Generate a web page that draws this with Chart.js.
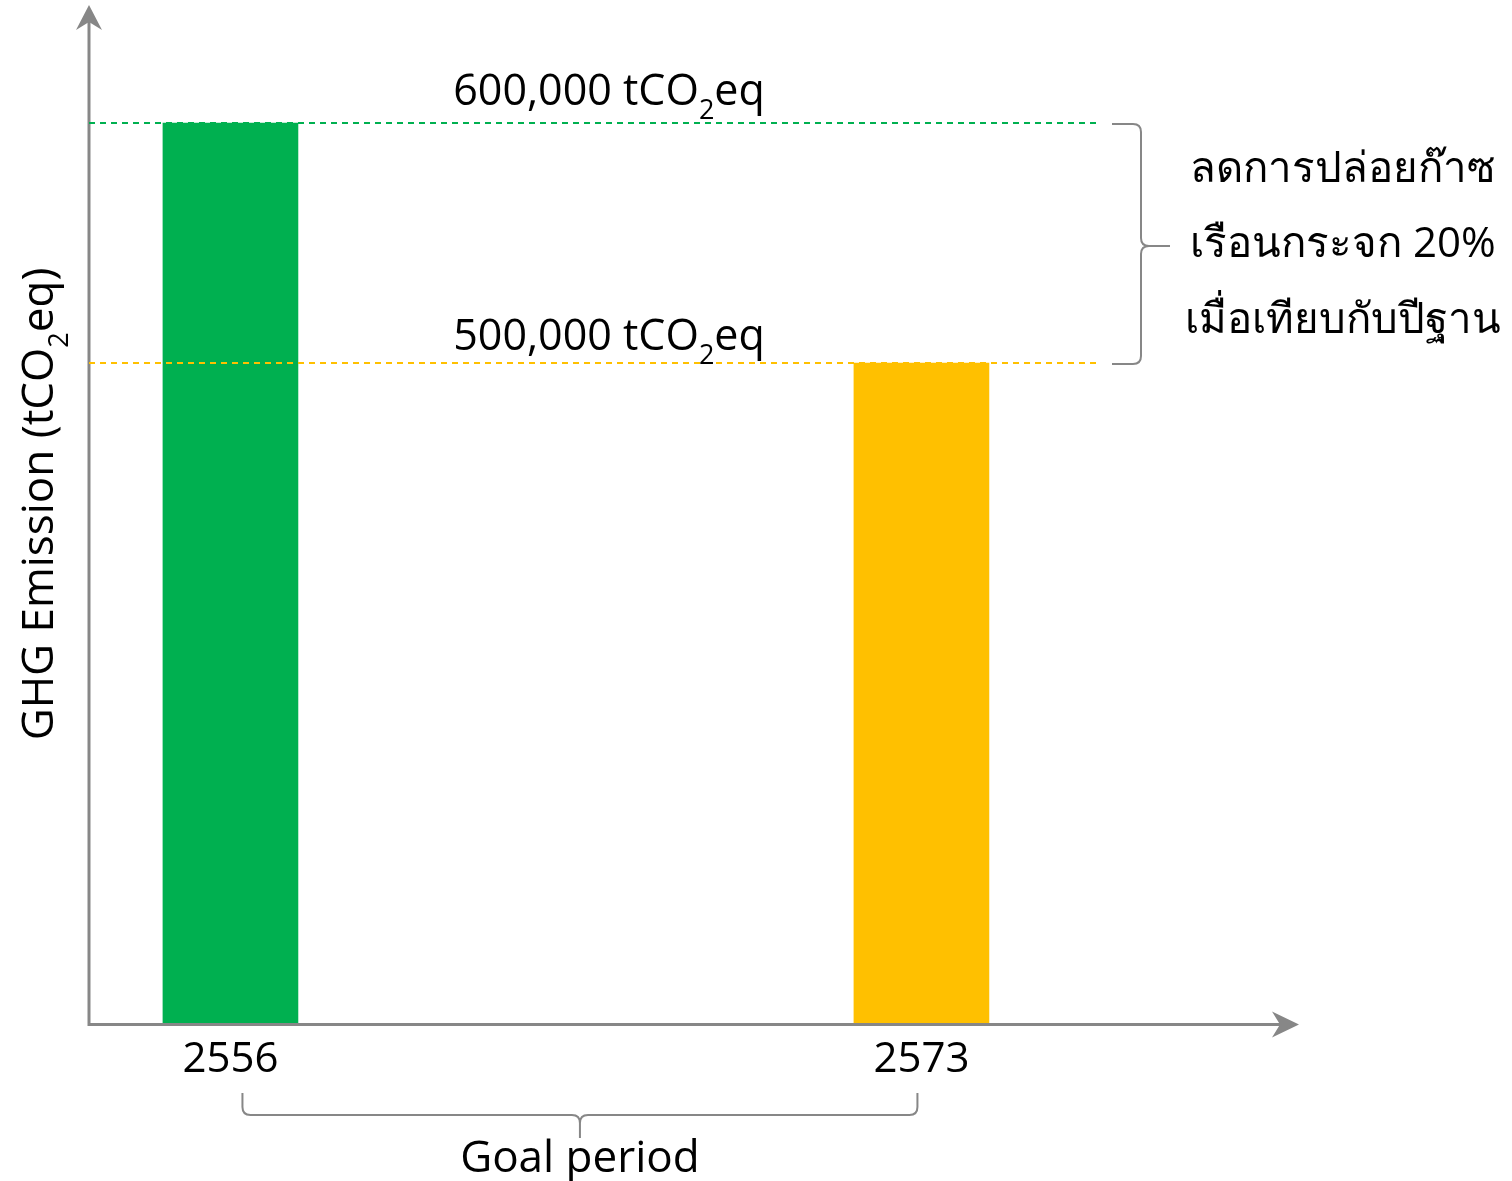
<!DOCTYPE html>
<html lang="th">
<head>
    <meta charset="UTF-8">
    <title>GHG Emission Goal</title>
    <script src="https://cdn.jsdelivr.net/npm/chart.js"></script>
    <style>
        html, body { margin: 0; padding: 0; background: #fff; }
        .chart-box { width: 1512px; height: 1181px; position: relative; }
    </style>
</head>
<body>
    <div class="chart-box">
        <canvas id="ghgChart"></canvas>
    </div>

    <script>
        // data
        const years = [2556, 2573];
        const emissions = [600000, 500000];
        const barColors = ['#00B050', '#FFC000'];
        const levelLabels = ['600,000', '500,000'];
        const noteLines = ['ลดการปล่อยก๊าซ', 'เรือนกระจก 20%', 'เมื่อเทียบกับปีฐาน'];
        const periodLabel = 'Goal period';

        const FONT = '"Open Sans", "Noto Sans", Tahoma, sans-serif';
        const AXIS_GREY = '#878787';

        // text with a subscript "2" in the middle: before + "2" + after
        function drawSub(ctx, before, after, x, y, size, align) {
            const subSize = Math.round(size * 0.62);
            ctx.font = size + 'px ' + FONT;
            const w1 = ctx.measureText(before).width;
            const w3 = ctx.measureText(after).width;
            ctx.font = subSize + 'px ' + FONT;
            const w2 = ctx.measureText('2').width;
            const total = w1 + w2 + w3;
            let sx = align === 'center' ? x - total / 2 : x;
            ctx.textAlign = 'left';
            ctx.textBaseline = 'alphabetic';
            ctx.font = size + 'px ' + FONT;
            ctx.fillText(before, sx, y);
            ctx.font = subSize + 'px ' + FONT;
            ctx.fillText('2', sx + w1, y + size * 0.33);
            ctx.font = size + 'px ' + FONT;
            ctx.fillText(after, sx + w1 + w2, y);
        }

        function arrowHead(ctx, tipX, tipY, dir) {
            // dir: 'up' or 'right'
            ctx.beginPath();
            if (dir === 'up') {
                ctx.moveTo(tipX, tipY);
                ctx.lineTo(tipX + 13, tipY + 25);
                ctx.lineTo(tipX, tipY + 17);
                ctx.lineTo(tipX - 13, tipY + 25);
            } else {
                ctx.moveTo(tipX, tipY);
                ctx.lineTo(tipX - 27, tipY + 13);
                ctx.lineTo(tipX - 19, tipY);
                ctx.lineTo(tipX - 27, tipY - 13);
            }
            ctx.closePath();
            ctx.fill();
        }

        const annotations = {
            id: 'annotations',
            afterDatasetsDraw(chart) {
                const ctx = chart.ctx;
                const area = chart.chartArea;
                const xs = chart.scales.x;
                const ys = chart.scales.y;
                ctx.save();

                // axes with arrows
                ctx.strokeStyle = AXIS_GREY;
                ctx.fillStyle = AXIS_GREY;
                ctx.lineWidth = 3;
                ctx.beginPath();
                ctx.moveTo(area.left, area.top + 14);
                ctx.lineTo(area.left, area.bottom + 1.5);
                ctx.lineTo(area.right - 14, area.bottom + 1.5);
                ctx.stroke();
                arrowHead(ctx, area.left, area.top - 3, 'up');
                arrowHead(ctx, area.right + 2, area.bottom + 1.5, 'right');

                // dashed reference levels
                const lineEnd = 1097;
                ctx.lineWidth = 2;
                ctx.setLineDash([6, 5]);
                emissions.forEach((v, i) => {
                    const y = ys.getPixelForValue(v);
                    ctx.strokeStyle = barColors[i];
                    ctx.beginPath();
                    ctx.moveTo(area.left, y);
                    ctx.lineTo(lineEnd, y);
                    ctx.stroke();
                });
                ctx.setLineDash([]);

                ctx.fillStyle = '#000';
                emissions.forEach((v, i) => {
                    const y = ys.getPixelForValue(v);
                    drawSub(ctx, levelLabels[i] + ' tCO', 'eq', 609, y - (i === 0 ? 18 : 13), 43, 'center');
                });

                // right brace between the two levels
                const yTop = ys.getPixelForValue(emissions[0]) + 1;
                const yBot = ys.getPixelForValue(emissions[1]) + 1;
                const yMid = (yTop + yBot) / 2 + 2;
                const bx = 1141, r = 8;
                ctx.strokeStyle = AXIS_GREY;
                ctx.lineWidth = 2;
                ctx.beginPath();
                ctx.moveTo(1112, yTop);
                ctx.lineTo(bx - r, yTop);
                ctx.quadraticCurveTo(bx, yTop, bx, yTop + r);
                ctx.lineTo(bx, yMid - r);
                ctx.quadraticCurveTo(bx, yMid, bx + r, yMid);
                ctx.lineTo(1170, yMid);
                ctx.moveTo(bx + r, yMid);
                ctx.quadraticCurveTo(bx, yMid, bx, yMid + r);
                ctx.lineTo(bx, yBot - r);
                ctx.quadraticCurveTo(bx, yBot, bx - r, yBot);
                ctx.lineTo(1112, yBot);
                ctx.stroke();

                ctx.fillStyle = '#000';
                ctx.font = '42px ' + FONT;
                ctx.textAlign = 'center';
                ctx.textBaseline = 'alphabetic';
                [182, 257, 333].forEach((by, i) => ctx.fillText(noteLines[i], 1343, by));

                // bottom brace spanning the goal period
                const x0 = xs.getPixelForValue(years[0]) + 12;
                const x1 = xs.getPixelForValue(years[1]) - 4;
                const xm = (x0 + x1) / 2;
                const top = 1093, mid = 1115, tip = 1138;
                ctx.strokeStyle = AXIS_GREY;
                ctx.beginPath();
                ctx.moveTo(x0, top);
                ctx.lineTo(x0, mid - r);
                ctx.quadraticCurveTo(x0, mid, x0 + r, mid);
                ctx.lineTo(xm - r, mid);
                ctx.quadraticCurveTo(xm, mid, xm, mid + r);
                ctx.lineTo(xm, tip);
                ctx.moveTo(xm, mid + r);
                ctx.quadraticCurveTo(xm, mid, xm + r, mid);
                ctx.lineTo(x1 - r, mid);
                ctx.quadraticCurveTo(x1, mid, x1, mid - r);
                ctx.lineTo(x1, top);
                ctx.stroke();

                ctx.fillStyle = '#000';
                ctx.font = '44px ' + FONT;
                ctx.textAlign = 'center';
                ctx.fillText(periodLabel, xm, 1172);

                // y axis title
                ctx.translate(53, 504);
                ctx.rotate(-Math.PI / 2);
                drawSub(ctx, 'GHG Emission (tCO', 'eq)', 0, 0, 44, 'center');

                ctx.restore();
            }
        };

        new Chart(document.getElementById('ghgChart'), {
            type: 'bar',
            data: {
                datasets: [{
                    data: years.map((yr, i) => ({ x: yr, y: emissions[i] })),
                    backgroundColor: barColors,
                    borderWidth: 0,
                    barThickness: 135
                }]
            },
            options: {
                responsive: true,
                maintainAspectRatio: false,
                animation: false,
                layout: { padding: { left: 89, top: 8, right: 215, bottom: 0 } },
                plugins: { legend: { display: false }, tooltip: { enabled: false } },
                scales: {
                    x: {
                        type: 'linear',
                        offset: false,
                        min: 2552.52,
                        max: 2582.24,
                        grid: { display: false, drawTicks: false, offset: false },
                        border: { display: false },
                        afterBuildTicks: scale => { scale.ticks = years.map(v => ({ value: v })); },
                        afterFit: scale => { scale.height = 158; },
                        ticks: {
                            padding: 12,
                            color: '#000',
                            font: { family: FONT, size: 42 },
                            callback: v => String(v)
                        }
                    },
                    y: {
                        display: false,
                        min: 225000,
                        max: 647917
                    }
                }
            },
            plugins: [annotations]
        });
    </script>
</body>
</html>
